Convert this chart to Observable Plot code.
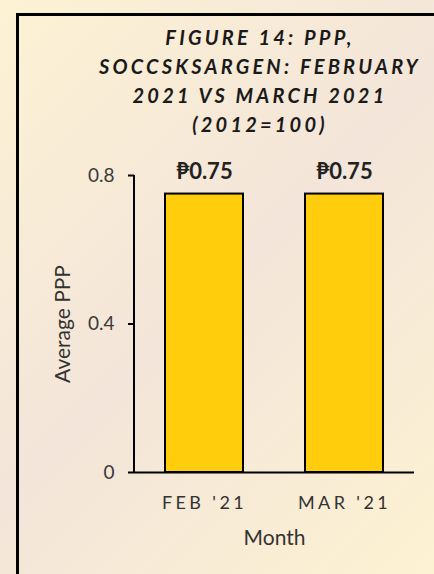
<!DOCTYPE html>
<html>
<head>
<meta charset="utf-8">
<script src="https://cdn.jsdelivr.net/npm/d3@7"></script>
<script src="https://cdn.jsdelivr.net/npm/@observablehq/plot@0.6"></script>
<style>
  html, body { margin: 0; padding: 0; }
  #wrap {
    position: relative; width: 434px; height: 574px; overflow: hidden;
    background: linear-gradient(135deg, #fdf2d4 0%, #f3e5d9 50%, #fdf2d2 100%);
    font-family: Lato, "Noto Sans", sans-serif;
  }
  #frame {
    position: absolute; left: 16px; top: 13px; width: 600px; height: 800px;
    border: 3px solid #000; box-sizing: border-box;
  }
  #title {
    position: absolute; left: 60px; width: 400px; top: 23px;
    text-align: center; font-weight: 700; font-style: italic;
    font-size: 20px; line-height: 29px; letter-spacing: 3.2px; color: #1a1a1a;
  }
  #chart { position: absolute; left: 0; top: 0; }
  #chart g[aria-label="x-axis tick label"] text { font-size: 18px; letter-spacing: 3.4px; }
</style>
</head>
<body>
<div id="wrap">
  <div id="frame"></div>
  <div id="chart"></div>
  <div id="title">FIGURE 14: PPP,<br>SOCCSKSARGEN: FEBRUARY<br>2021 VS MARCH 2021<br>(2012=100)</div>
</div>
<script>
const months = ["FEB '21", "MAR '21"];
const ppp = [0.75, 0.75];
const yTicks = [0, 0.4, 0.8];
const barLabels = ["₱0.75", "₱0.75"];
const xTitle = "Month";
const yTitle = "Average PPP";

const data = months.map((m, i) => ({month: m, value: ppp[i], label: barLabels[i]}));

const yAxisLine = (index, scales, values, dimensions) => {
  const svg = d3.create("svg:line")
    .attr("x1", dimensions.marginLeft).attr("x2", dimensions.marginLeft)
    .attr("y1", scales.y(0.8)).attr("y2", scales.y(0))
    .attr("stroke", "#000").attr("stroke-width", 2);
  return svg.node();
};

const chart = Plot.plot({
  width: 434,
  height: 574,
  marginLeft: 134,
  marginRight: 20,
  marginTop: 175,
  marginBottom: 102,
  style: {background: "transparent", fontFamily: "Lato, 'Noto Sans', sans-serif", color: "#333"},
  x: {domain: months, paddingInner: 0.443, paddingOuter: 0.2215, label: null},
  y: {domain: [0, 0.8], label: null},
  marks: [
    Plot.barY(data, {x: "month", y: "value", fill: "#ffcd0c", stroke: "#000", strokeWidth: 2}),
    Plot.ruleY([0], {stroke: "#000", strokeWidth: 2}),
    yAxisLine,
    Plot.axisY({ticks: yTicks, tickFormat: d => d === 0 ? "0" : String(d), tickSize: 6, tickPadding: 14,
      fontSize: 19, stroke: "#000", strokeWidth: 2, fill: "#3a3a3a", label: null}),
    Plot.axisX({tickSize: 0, tickPadding: 24, fontSize: 18, fill: "#333", label: null}),
    Plot.text([xTitle], {frameAnchor: "bottom", dy: 66, lineAnchor: "middle", fontSize: 21, fill: "#333"}),
    Plot.text([yTitle], {frameAnchor: "left", dx: -71, rotate: -90, textAnchor: "middle", lineAnchor: "middle", fontSize: 21, fill: "#333"}),
    Plot.text(data, {x: "month", y: "value", text: "label", dy: -22, fontSize: 22, fontWeight: "bold", fill: "#222",
      fontFamily: "Lato, 'Noto Sans', 'DejaVu Sans', sans-serif"})
  ]
});
document.getElementById("chart").appendChild(chart);
</script>
</body>
</html>
